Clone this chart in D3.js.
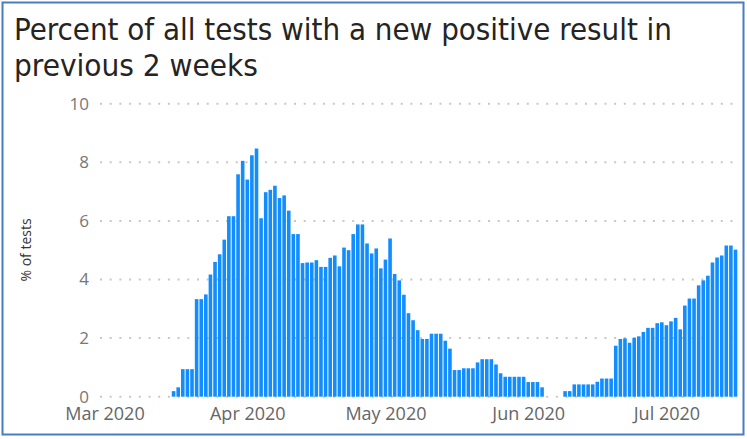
<!DOCTYPE html>
<html>
<head>
<meta charset="utf-8">
<script src="https://cdn.jsdelivr.net/npm/d3@7"></script>
<style>
  body { margin: 0; background: #fff; }
  svg { display: block; }
</style>
</head>
<body>
<svg id="chart" width="747" height="439"></svg>
<script>
// daily values, first bar = 16 Mar 2020, null = no bar
var startDate = new Date(2020, 2, 16);
var pctValues = [
  0.19, 0.32, 0.94, 0.94, 0.94, 3.33, 3.33, 3.49, 4.17, 4.60,
  4.86, 5.36, 6.16, 6.16, 7.59, 8.05, 7.41, 8.24, 8.47, 6.09,
  6.98, 7.06, 7.20, 6.78, 6.87, 6.35, 5.55, 5.55, 4.56, 4.58,
  4.58, 4.66, 4.43, 4.43, 4.74, 4.82, 4.45, 5.09, 5.00, 5.55,
  5.88, 5.88, 5.23, 4.89, 5.06, 4.38, 4.68, 5.40, 4.19, 3.97,
  3.48, 2.85, 2.61, 2.27, 1.97, 1.97, 2.15, 2.15, 2.15, 1.91,
  1.64, 0.91, 0.91, 0.97, 0.97, 0.97, 1.17, 1.28, 1.28, 1.28,
  1.10, 0.80, 0.68, 0.68, 0.68, 0.68, 0.68, 0.50, 0.50, 0.50,
  0.32, null, null, null, null, 0.19, 0.19, 0.42, 0.42, 0.42,
  0.42, 0.42, 0.51, 0.62, 0.62, 0.62, 1.74, 1.97, 1.99, 1.84,
  2.01, 2.06, 2.21, 2.35, 2.35, 2.51, 2.54, 2.44, 2.57, 2.69,
  2.30, 3.11, 3.35, 3.35, 3.80, 3.97, 4.13, 4.58, 4.75, 4.82,
  5.16, 5.16, 5.02
];
var yTicks = [0, 2, 4, 6, 8, 10];
var titleLines = ["Percent of all tests with a new positive result in", "previous 2 weeks"];
var yTitle = "% of tests";

var data = pctValues.map(function(v, i) {
  return { date: d3.timeDay.offset(startDate, i), value: v };
});

var svg = d3.select('#chart');

// outer frame
svg.append('rect')
  .attr('x', 2.5).attr('y', 2.5)
  .attr('width', 741).attr('height', 432)
  .attr('fill', '#fff')
  .attr('stroke', '#4a7cc0')
  .attr('stroke-width', 2);

// title
var title = svg.append('g').attr('class', 'title');
title.selectAll('text').data(titleLines).enter().append('text')
  .attr('x', 14)
  .attr('y', function(d, i) { return 40 + i * 36; })
  .attr('font-family', '"DejaVu Sans Condensed", "Liberation Sans Narrow", sans-serif')
  .attr('font-size', 30)
  .attr('fill', '#252423')
  .attr('textLength', function(d, i) { return i === 0 ? 658 : 244; })
  .attr('lengthAdjust', 'spacingAndGlyphs')
  .text(function(d) { return d; });

var xScale = d3.scaleTime()
  .domain([new Date(2020, 2, 1), new Date(2020, 6, 16)])
  .range([104.5, 735.5]);
var yScale = d3.scaleLinear().domain([0, 10]).range([396.7, 103.7]);

// dotted grid
svg.append('g').attr('class', 'grid')
  .selectAll('line').data(yTicks).enter().append('line')
  .attr('x1', 100).attr('x2', 740)
  .attr('y1', function(d) { return yScale(d); })
  .attr('y2', function(d) { return yScale(d); })
  .attr('stroke', '#c8c8c8')
  .attr('stroke-width', 2)
  .attr('stroke-dasharray', '2,7.7');

// y axis labels
var yAxis = svg.append('g').attr('class', 'yAxis')
  .attr('transform', 'translate(89,0)')
  .call(d3.axisLeft(yScale).tickValues(yTicks).tickSize(0).tickPadding(0));
yAxis.select('.domain').remove();
yAxis.selectAll('text')
  .attr('font-family', '"Segoe UI", "Open Sans", sans-serif')
  .attr('font-size', 17)
  .attr('fill', '#777');

svg.append('text')
  .attr('transform', 'translate(31,250) rotate(-90)')
  .attr('text-anchor', 'middle')
  .attr('font-family', '"Segoe UI", "Open Sans", sans-serif')
  .attr('font-size', 14)
  .attr('fill', '#333')
  .text(yTitle);

// x axis labels
var xAxis = svg.append('g').attr('class', 'xAxis')
  .attr('transform', 'translate(0,407)')
  .call(d3.axisBottom(xScale).ticks(d3.timeMonth.every(1)).tickFormat(d3.timeFormat('%b %Y')).tickSize(0).tickPadding(0));
xAxis.select('.domain').remove();
xAxis.selectAll('text')
  .attr('font-family', '"Segoe UI", "Open Sans", sans-serif')
  .attr('font-size', 18)
  .attr('fill', '#666');

// bars
var barW = 3.6;
svg.append('g').attr('class', 'bars')
  .selectAll('rect').data(data.filter(function(d) { return d.value != null; }))
  .enter().append('rect')
  .attr('x', function(d) { return xScale(d.date) - barW / 2; })
  .attr('y', function(d) { return yScale(d.value); })
  .attr('width', barW)
  .attr('height', function(d) { return yScale(0) - yScale(d.value); })
  .attr('fill', '#118dff');
</script>
</body>
</html>
